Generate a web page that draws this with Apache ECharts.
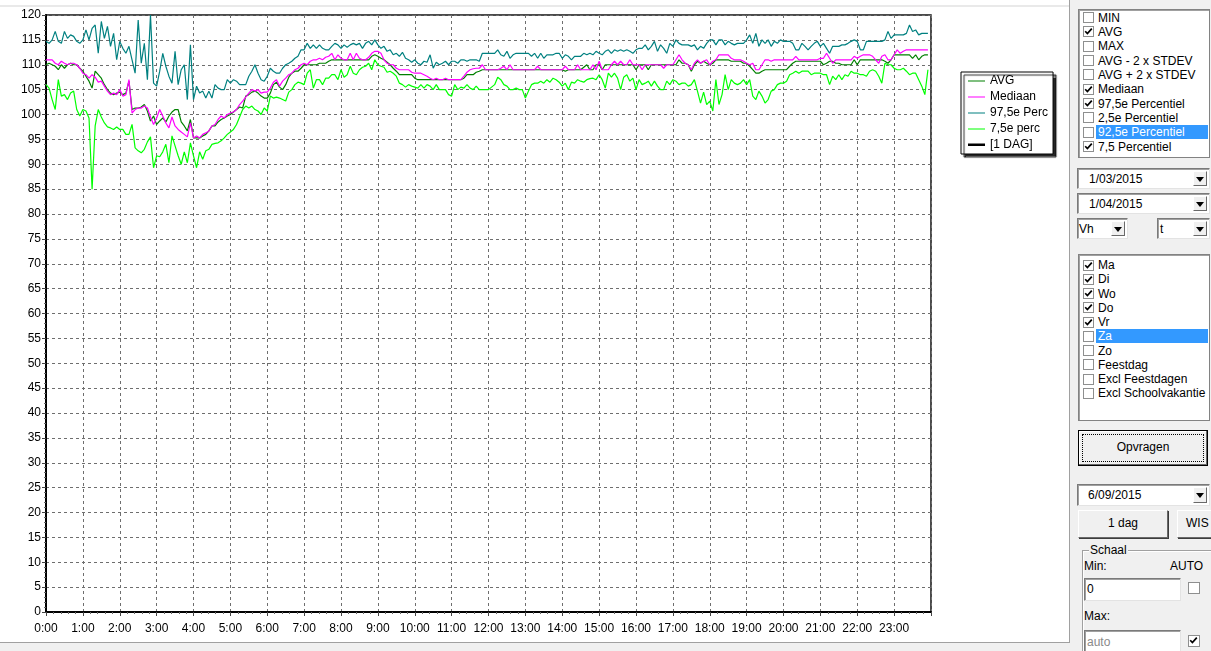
<!DOCTYPE html>
<html><head><meta charset="utf-8">
<script src="https://cdn.jsdelivr.net/npm/echarts@6/dist/echarts.min.js"></script>
<style>
html,body{margin:0;padding:0;width:1211px;height:651px;overflow:hidden;background:#fff;font-family:"Liberation Sans",Arial,sans-serif;font-size:12px;color:#000;}
#topline{position:absolute;left:0;top:5px;width:1069px;height:2px;background:#e9e9e9;}
#chart{position:absolute;left:0;top:0;width:1068px;height:641px;}
#bottom{position:absolute;left:0;top:642px;width:1070px;height:9px;background:#f0f0f0;border-top:1px solid #a0a0a0;}
#vsep{position:absolute;left:1069px;top:0;width:1px;height:643px;background:#a0a0a0;}
#panel{position:absolute;left:1070px;top:0;width:141px;height:651px;background:#f0f0f0;}
.abs{position:absolute;}
.lb{position:absolute;background:#fff;box-sizing:border-box;border:1px solid #828282;box-shadow:inset 1px 1px 0 #a0a0a0;}
.cb{position:absolute;width:11px;height:11px;box-sizing:border-box;border:1px solid #8e8f8f;background:#fff;}
.cb svg{position:absolute;left:0;top:0;}
.t{position:absolute;white-space:nowrap;line-height:14px;}
.sel{position:absolute;background:#3399ff;}
.combo{position:absolute;background:#fff;box-sizing:border-box;border:1px solid #7a7a7a;border-right-color:#e3e3e3;border-bottom-color:#e3e3e3;box-shadow:inset 1px 1px 0 #a0a0a0;}
.dd{position:absolute;right:2px;top:2px;width:14px;bottom:2px;background:#f0f0f0;box-sizing:border-box;border:1px solid;border-color:#fff #696969 #696969 #fff;}
.dd:after{content:"";position:absolute;left:2px;top:5px;border-left:4px solid transparent;border-right:4px solid transparent;border-top:5px solid #000;}
.btn{position:absolute;background:#f0f0f0;box-sizing:border-box;border:1px solid;border-color:#fff #696969 #696969 #fff;box-shadow:1px 1px 0 #3c3c3c;text-align:center;}
.inp{position:absolute;background:#fff;box-sizing:border-box;border:1px solid;border-color:#7a7a7a #e3e3e3 #e3e3e3 #7a7a7a;box-shadow:inset 1px 1px 0 #a0a0a0;}
</style></head>
<body>
<div id="topline"></div>
<div id="chart"></div>
<div id="bottom"></div>
<div id="vsep"></div>
<div id="panel"></div>
<div id="ui"></div>
<script>
// ---------------- data ----------------
const hourLabels = ['0:00','1:00','2:00','3:00','4:00','5:00','6:00','7:00','8:00','9:00','10:00','11:00',
  '12:00','13:00','14:00','15:00','16:00','17:00','18:00','19:00','20:00','21:00','22:00','23:00'];
// sample times (minutes after midnight, 5-minute steps)
const minutes = [];
for (let i = 0; i < 288; i++) minutes.push(i * 5);

const avg = [
110,110.3,110,109.7,109,110,109.3,110,110.3,110,110,109.3,
108.7,107.7,106.7,105.3,108.7,108,107.3,106,105,104.3,104,104.3,
104.5,104,104.3,106.7,101,101.3,101.3,101.5,102,100.7,98.7,99.7,
98,98.7,99.3,98.5,99.7,100.5,101,101,98.5,97.7,96.7,99,
95.3,95.3,95.3,95.7,96,96.7,97.7,97.7,98.5,99,99.3,99.7,
100,100.5,101,101.5,101.3,103.7,104,104.5,104.7,104.3,103.7,103.3,
103.3,104.3,106,106.5,105.5,105,106,107.5,108.3,108.7,108.7,109.3,
110,110,110,110,110,110.3,110.3,110.3,110.7,111,111,111,
111,111,111,111,111,111,111,111,111,111,111.7,112,
111.7,111.3,111,110.5,110,109.3,108.7,108,108,108,108,108,
107.3,107,107,107,107,107,107,107,107,107,107,107,
107,107,107,107,107.3,108,108,108,108.5,108.7,109,109,
109,109,109,109,109,109,109,109,109,109,109,109,
109,109,109,109,109,109,109,109,109,109,109,109,
109,108.7,109,109,109,109,109,109.5,110,109,109,110,
110,109,110,110,110,110,110,110,110,110,110,110,
109,110,110,110,109,110,110,110,110,110,110,110,
110,110,111,110.3,110.3,110,108.7,110,110.7,110.3,110.7,110.3,
110,110.3,111,111,111,111,111,110.7,110.7,110.7,110.7,110.3,
110.3,109.7,109,108.3,108.3,108.7,109,109,109,109,109,109,
109,109,109.7,110.3,110.7,110.7,110.7,110.7,110.7,110.7,110.7,110.7,
110.7,110,110.3,110.7,110.7,110.3,110.3,110,110,110,110,111,
110,111,111,111,111,111,111,111,111,110.7,110.3,111,
112,112,112,112,112,112,111.3,112,111,111.7,112,112
];
const mediaan = [
111,111,111,110.3,110,110.7,110.3,110,110.3,110.3,110,109.3,
108.3,108,107.3,108,107.5,106.5,106.7,105.7,104.7,104,104.3,104,
105,103.7,104,107,100.3,101,101.3,101.3,101.7,101.3,99.5,98,
99.3,101,99.7,98.3,97.3,99.5,97.7,97,96.5,96,95.5,98.3,
95.3,95.7,95.3,96,96.3,96.7,97.7,98,99,99.7,99.3,100,
100.3,100.5,101,102,102.7,103.5,104.3,105,104.7,105,104.3,104.5,
104.5,105.3,106.5,107,105.7,106.7,107.3,108,108.3,109,109.3,110,
110.3,110,110.7,111,111,111.3,111,111.5,111.7,112.3,111,112,
111.3,111,111,112.3,111,112.3,111.3,111,111,111.5,112.3,112.7,
112.7,112.3,111,110.3,110,110,109.3,109,109,109,109,108.5,
108.3,108.3,108.3,108,107.7,107.3,107,107.3,107,107,107.3,107,
107,107,107,107,107.7,108.5,109,109.2,109.3,109.3,110,109,
109,109,109,109,109.3,109.7,109,110,109,109,109,109,
109,109,109,109,109.7,109,109,109,109,109,109,109,
109,109.7,109,109,109,110,109,109,109,109,110,109,
110.7,109,109,109,110,110.7,110,110.7,110,110,111,110,
110,110,109,110,110,110,110,110,110,109.3,110,110,
110,111,112,111,110.3,110,109,110.3,111,110.3,110.7,111,
110,110.7,111,112,112,112,112,111.3,111,111,111,110.7,
110.3,110,110.3,109,109,110,111,111,110.7,111,111,111,
111,111,111,111,111.7,111,111,111,111,111,111,111,
111.3,111.3,112.3,111.3,110.3,111,111,111,111,111,111,111.7,
111.3,111.7,112,112,112,111.7,111,110.3,111.7,112,111,111,
112,113,112.3,112.7,113,113,113,113,113,113,113,113
];
const perc975 = [
114.7,114.3,115,116.7,114.7,114.3,116.7,115.3,116,115.7,114.7,114.3,
115,117,115,117.3,118,112.3,118.7,115.3,117.7,113.7,116.3,111,
114.7,113.3,112.3,113.7,111,108.3,119,110.3,114.3,107,120,106.3,
105.7,108.7,112.3,109.7,107.7,106.3,112.7,106,109,110,103,114,
103,105.7,104.3,104.7,103.3,104.7,103.3,106,105.3,105,105,107,
106.3,107,106.7,106,106,106,107.7,108.7,110,108.3,107,106.7,
107.7,109.3,108.7,108.3,108.3,109.3,110,110.3,110.7,111.3,111.7,113,
113,114.3,113.3,114,113.3,114,113.3,113,113,113.7,114.3,114,
113.3,114,113.5,114,114.3,114,114.3,113.3,114.3,114.7,114,115,
114,113.3,113.7,112.7,113,112,112.3,111.7,112.5,111.3,111,110.5,
111,110.3,110,110.7,110.5,112,109.3,110.5,110,110.3,110.7,110,
110.7,110.7,110.3,111,111,110.7,111,111,111,110.7,112.3,112.3,
112.3,112.3,112.3,113,112,111.7,112.7,111.3,112,112.3,112.3,112.3,
112.3,112.3,111.7,112.3,111.3,112.3,111.3,112,112,112,112.3,112.3,
111.3,112,111.7,111,111.7,111.7,111.7,112.3,112,112.3,112,112.7,
112.3,112,112.7,113,112.3,113,112.7,113,112.7,113,112.7,112.3,
113,113.3,113.3,114,113,113.7,114.7,112.7,114,113.3,112.3,114.3,
113.7,115,114.3,114,114,114,113.7,114,113,113.7,113.3,114.3,
115,115,114,115,115,114,114.7,114.3,114,114.3,114.3,114.3,
115,116,114.3,116.3,113.7,115,114.3,115,113.7,114.7,114.3,115,
114.7,114.7,114.7,114.3,113,113,114.3,113.7,113,113.7,114.3,114.7,
113.7,114.3,113.3,112.3,113.7,113.7,113.7,114,114,114.3,114.7,115,
114.7,113,113,114.7,114.7,114.7,114.7,114.7,114.7,115,116.7,115.3,
116,116,116,116,116.3,118,116.7,117,116,116.3,116.3,116.3
];
const perc75 = [
106,105.3,103,101,107,103.7,104,103,104.3,104.7,101,99.7,
101,100.7,99.3,85,97.7,101,99.5,98.3,97.5,97.3,97,97.5,
97,97,96,96,98,93.3,92.7,92.3,93,94.5,95.5,89.3,
91.7,91.5,92.5,94,90.3,95.7,93.7,91.7,90,92.5,90.3,94.3,
91.7,89.3,92.5,91,92.7,93,94,94.2,94.3,94.7,95.3,96,
96.5,97,98,99.5,101,101.7,101.3,101.7,101,100.7,100,101.3,
100.7,103.7,103.3,103.5,103.3,103,102.7,104.5,105,106,106.5,106.3,
106,108.3,109,105.3,107,107,106,107.3,107.3,108,108,107,
109,107.5,108,109.7,108.3,108,109,109.5,109.7,110.3,109,111,
110,109.7,109.5,108.5,108.7,108.3,107.7,106.3,106,105.5,106,105.7,
105.5,105.3,106,105.3,106,105.7,105,106,105,105,105,104,
103.7,106,105,105.5,105.3,106,105.3,105,105.7,105,105,105,
105,105.5,106,107.5,107,106,105.7,105,105,105.3,105,105,
103.3,104.7,106,106.3,106.3,106.7,106.3,107,106.5,107.3,107,106.5,
105.7,106.3,105,106.5,106.3,107,106.7,106.5,107,107.2,107.3,107,
108,107,105.3,108.3,107.5,108.3,107.3,105,107.5,108,106.7,107.3,
105,107,106,106.3,106.7,105.7,106.7,105.7,105,105,106.7,106,
107,106.7,106,106.3,106.3,105.7,106,107,104.7,102.3,104.5,102,
102.7,100.7,107,102,104,108,105,107,106.3,106,106.3,107,
106,107,103.7,103,104.7,103.7,102.3,103,104.7,105,106,106.3,
106.3,106.7,108,108.3,108.7,108.3,108.7,108.7,108.7,108,108.3,108.3,
108.3,108,108,106,107.7,107,108,107,108,107.7,108.7,108.3,
108.3,108,108,107.7,108.7,109,108.7,107.7,106.3,110.3,110,110,
109.3,109,109,109.3,108.7,108,108.3,108.3,107,105.7,104,109
];
const dag = []; // [1 DAG] selected day: no values drawn

const seriesNames = ['AVG', 'Mediaan', '97,5e Perc', '7,5e perc', '[1 DAG]'];
const seriesColors = ['#008000', '#ff00ff', '#008080', '#00ff00', '#000000'];

// ---------------- chart ----------------
const FONT = '"Liberation Sans", Arial, sans-serif';
const pairs = arr => arr.map((v, i) => [minutes[i], v]);
const dataSets = [avg, mediaan, perc975, perc75, dag];
const thin = 'path://M0,0h17v0.01h-17zM0,6.5h17v1h-17zM0,13.99h17v0.01h-17z';
const thick = 'path://M0,0h17v0.01h-17zM0,5.5h17v2.5h-17zM0,13.99h17v0.01h-17z';

const chart = echarts.init(document.getElementById('chart'), null, {renderer: 'canvas'});
chart.setOption({
  animation: false,
  textStyle: {fontFamily: FONT},
  grid: {left: 46, top: 15, width: 885, height: 597, show: true, borderColor: '#111', borderWidth: 1.5,
         backgroundColor: '#fff', containLabel: false, outerBoundsMode: 'none'},
  legend: {
    orient: 'vertical', left: 961, top: 72,
    padding: [2, 5, 2, 7], itemGap: 2, itemWidth: 17, itemHeight: 14,
    backgroundColor: '#fff', borderColor: '#000', borderWidth: 1,
    shadowColor: 'rgba(0,0,0,0.85)', shadowBlur: 1, shadowOffsetX: 3, shadowOffsetY: 3,
    selectedMode: false,
    textStyle: {fontSize: 12, color: '#000', fontFamily: FONT, lineHeight: 14},
    data: seriesNames.map((n, i) => ({name: n, icon: i === 4 ? thick : thin}))
  },
  xAxis: {
    type: 'value', min: 0, max: 1440, interval: 60,
    axisLine: {show: true, onZero: false, lineStyle: {color: '#000', width: 2}},
    axisTick: {show: true, length: 4, lineStyle: {color: '#444'}},
    minorTick: {show: true, splitNumber: 5, length: 2, lineStyle: {color: '#666'}},
    minorSplitLine: {show: false},
    axisLabel: {margin: 11, fontSize: 12, color: '#000', fontFamily: FONT, showMaxLabel: false,
      formatter: v => (hourLabels[Math.round(v / 60)] || '')},
    splitLine: {show: true, lineStyle: {color: '#6e6e6e', width: 1, type: [3, 3]}}
  },
  yAxis: {
    type: 'value', min: 0, max: 120, interval: 5,
    axisLine: {show: true, onZero: false, lineStyle: {color: '#000', width: 2}},
    axisTick: {show: true, length: 4, lineStyle: {color: '#444'}},
    minorTick: {show: true, splitNumber: 5, length: 2, lineStyle: {color: '#666'}},
    axisLabel: {margin: 5, fontSize: 12, color: '#000', fontFamily: FONT},
    splitLine: {show: true, lineStyle: {color: '#6e6e6e', width: 1, type: [3, 3]}}
  },
  series: seriesNames.map((n, i) => ({
    name: n, type: 'line', data: pairs(dataSets[i]),
    symbol: 'none', showSymbol: false, silent: true,
    lineStyle: {color: seriesColors[i], width: i === 4 ? 2 : 1.2},
    itemStyle: {color: seriesColors[i]},
    emphasis: {disabled: true}
  }))
});

// ---------------- side panel (controls) ----------------
const ui = document.getElementById('ui');
function add(html) { ui.insertAdjacentHTML('beforeend', html); }
const CHECK = '<svg width="9" height="9" viewBox="0 0 9 9"><path d="M1.2,4.2 L3.4,6.6 L7.8,1.6" stroke="#000" stroke-width="1.7" fill="none"/></svg>';
function cb(x, y, checked, size) {
  size = size || 11;
  add('<div class="cb" style="left:' + x + 'px;top:' + y + 'px;width:' + size + 'px;height:' + size + 'px">' +
      (checked ? CHECK : '') + '</div>');
}
function listbox(x, y, w, h, items, checked, selIdx, firstC, step) {
  add('<div class="lb" style="left:' + x + 'px;top:' + y + 'px;width:' + w + 'px;height:' + h + 'px"></div>');
  items.forEach((it, i) => {
    const c = firstC + i * step;
    if (i === selIdx) add('<div class="sel" style="left:1096px;top:' + (c - 7) + 'px;width:112px;height:14px"></div>');
    cb(1083, Math.round(c - 5.5), checked[i]);
    add('<div class="t" style="left:1098px;top:' + (c - 7) + 'px;' + (i === selIdx ? 'color:#fff' : '') + '">' + it + '</div>');
  });
}
function combo(x, y, w, h, text, tx) {
  add('<div class="combo" style="left:' + x + 'px;top:' + y + 'px;width:' + w + 'px;height:' + h + 'px">' +
      '<div class="t" style="left:' + tx + 'px;top:' + ((h - 2 - 14) / 2) + 'px">' + text + '</div><div class="dd"></div></div>');
}

listbox(1078, 9, 132, 149,
  ['MIN', 'AVG', 'MAX', 'AVG - 2 x STDEV', 'AVG + 2 x STDEV', 'Mediaan', '97,5e Percentiel', '2,5e Percentiel', '92,5e Percentiel', '7,5 Percentiel'],
  [0, 1, 0, 0, 0, 1, 1, 0, 0, 1], 8, 17.5, 14.35);
combo(1077, 168, 133, 21, '1/03/2015', 11);
combo(1077, 193, 133, 21, '1/04/2015', 11);
combo(1077, 218, 51, 21, 'Vh', 1);
combo(1157, 218, 53, 21, 't', 2);
listbox(1078, 254, 132, 167,
  ['Ma', 'Di', 'Wo', 'Do', 'Vr', 'Za', 'Zo', 'Feestdag', 'Excl Feestdagen', 'Excl Schoolvakantie'],
  [1, 1, 1, 1, 1, 0, 0, 0, 0, 0], 5, 265, 14.25);

// Opvragen button
add('<div class="btn" style="left:1078px;top:430px;width:130px;height:36px;border:1px solid #000;box-shadow:inset -1px -1px 0 #696969, inset 1px 1px 0 #fff;"></div>');
add('<div class="abs" style="left:1082px;top:434px;width:122px;height:28px;box-sizing:border-box;border:1px dotted #000"></div>');
add('<div class="t" style="left:1078px;top:440px;width:130px;text-align:center">Opvragen</div>');

combo(1077, 484, 133, 22, '6/09/2015', 10);
add('<div class="btn" style="left:1078px;top:510px;width:90px;height:28px"></div>');
add('<div class="t" style="left:1078px;top:516px;width:90px;text-align:center">1 dag</div>');
add('<div class="btn" style="left:1177px;top:510px;width:40px;height:28px"></div>');
add('<div class="t" style="left:1186px;top:516px">WIS</div>');

// Schaal group
add('<div class="abs" style="left:1082px;top:550px;width:140px;height:110px;border-top:1px solid #a0a0a0;border-left:1px solid #a0a0a0;box-shadow:inset 1px 1px 0 #fff"></div>');
add('<div class="t" style="left:1089px;top:543px;background:#f0f0f0;padding:0 1px">Schaal</div>');
add('<div class="t" style="left:1084px;top:559px">Min:</div>');
add('<div class="t" style="left:1170px;top:559px">AUTO</div>');
add('<div class="inp" style="left:1084px;top:578px;width:97px;height:23px"><div class="t" style="left:2px;top:3px">0</div></div>');
cb(1188, 582, false, 12);
add('<div class="t" style="left:1084px;top:609px">Max:</div>');
add('<div class="inp" style="left:1084px;top:630px;width:97px;height:23px"><div class="t" style="left:2px;top:4px;color:#8a8a8a">auto</div></div>');
cb(1188, 635, true, 12);
</script>
</body></html>
